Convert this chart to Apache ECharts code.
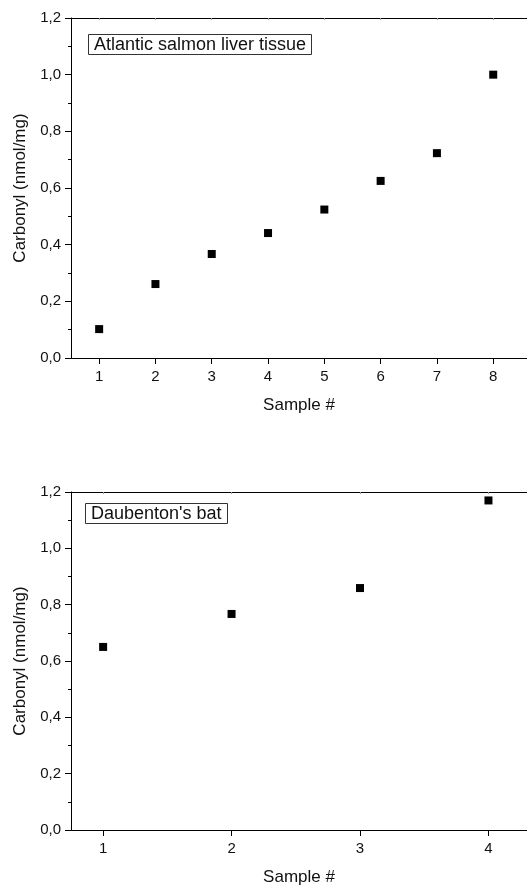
<!DOCTYPE html>
<html>
<head>
<meta charset="utf-8">
<script src="https://cdn.jsdelivr.net/npm/echarts@6/dist/echarts.min.js"></script>
<style>
html,body{margin:0;padding:0;background:#fff;}
#c{width:527px;height:888px;}
</style>
</head>
<body>
<div id="c"></div>
<script>
// ---- data ----
var salmonSamples = [1, 2, 3, 4, 5, 6, 7, 8];
var salmonCarbonyl = [0.102, 0.261, 0.367, 0.441, 0.524, 0.625, 0.723, 1.0];
var batSamples = [1, 2, 3, 4];
var batCarbonyl = [0.650, 0.767, 0.859, 1.170];
var salmonXTicks = [1, 2, 3, 4, 5, 6, 7, 8];
var batXTicks = [1, 2, 3, 4];
var yTicks = [0, 0.2, 0.4, 0.6, 0.8, 1.0, 1.2];
var salmonLabel = 'Atlantic salmon liver tissue';
var batLabel = "Daubenton's bat";
var yTitle = 'Carbonyl (nmol/mg)';
var xTitle = 'Sample #';

var FONT = '"Liberation Sans", Arial, sans-serif';
var BLACK = '#000';
var TXT = '#111';

function pairs(xs, ys) { return xs.map(function (x, i) { return [x, ys[i]]; }); }
function fmtY(v) { return v.toFixed(1).replace('.', ','); }

function xAxisBottom(grid, min, max, ticks) {
  return {
    type: 'value', gridIndex: grid, position: 'bottom', min: min, max: max,
    name: xTitle, nameLocation: 'middle', nameGap: 39,
    nameTextStyle: { fontFamily: FONT, fontSize: 17, color: TXT },
    axisLine: { show: true, onZero: false, lineStyle: { color: BLACK, width: 1 } },
    axisTick: { show: true, inside: false, length: 6, customValues: ticks, lineStyle: { color: BLACK } },
    axisLabel: { show: true, customValues: ticks, margin: 11, fontFamily: FONT, fontSize: 15, color: TXT },
    splitLine: { show: false }
  };
}
function xAxisTop(grid, min, max, ticks) {
  return {
    type: 'value', gridIndex: grid, position: 'top', min: min, max: max,
    axisLine: { show: true, onZero: false, lineStyle: { color: BLACK, width: 1 } },
    axisTick: { show: true, inside: true, length: 2, customValues: ticks, lineStyle: { color: '#999' } },
    axisLabel: { show: false },
    splitLine: { show: false }
  };
}
function yAxis(grid) {
  return {
    type: 'value', gridIndex: grid, min: 0, max: 1.2,
    name: yTitle, nameLocation: 'middle', nameGap: 42, nameRotate: 90,
    nameTextStyle: { fontFamily: FONT, fontSize: 17, color: TXT },
    axisLine: { show: true, onZero: false, lineStyle: { color: BLACK, width: 1 } },
    axisTick: { show: true, inside: false, length: 6, customValues: yTicks, lineStyle: { color: BLACK } },
    minorTick: { show: true, splitNumber: 2, length: 3, lineStyle: { color: BLACK } },
    axisLabel: { show: true, customValues: yTicks, margin: 10, fontFamily: FONT, fontSize: 15, color: TXT, formatter: fmtY },
    splitLine: { show: false }
  };
}
function labelBox(text, left, top) {
  return {
    text: text, left: left, top: top,
    borderWidth: 1, borderColor: '#333', padding: [2, 6, 1, 6],
    textStyle: { fontFamily: FONT, fontSize: 18, fontWeight: 'normal', color: TXT }
  };
}

var chart = echarts.init(document.getElementById('c'), null, { renderer: 'canvas' });
chart.setOption({
  animation: false,
  backgroundColor: '#fff',
  title: [labelBox(salmonLabel, 88, 34), labelBox(batLabel, 85, 503)],
  grid: [
    { left: 71, top: 18, width: 459, height: 340, containLabel: false },
    { left: 71, top: 492, width: 460, height: 338, containLabel: false }
  ],
  xAxis: [
    xAxisBottom(0, 0.5, 8.6, salmonXTicks),
    xAxisTop(0, 0.5, 8.6, salmonXTicks),
    xAxisBottom(1, 0.75, 4.3, batXTicks),
    xAxisTop(1, 0.75, 4.3, batXTicks)
  ],
  yAxis: [yAxis(0), yAxis(1)],
  series: [
    { type: 'scatter', xAxisIndex: 0, yAxisIndex: 0, symbol: 'rect', symbolSize: 8,
      itemStyle: { color: BLACK, opacity: 1 }, data: pairs(salmonSamples, salmonCarbonyl) },
    { type: 'scatter', xAxisIndex: 2, yAxisIndex: 1, symbol: 'rect', symbolSize: 8,
      itemStyle: { color: BLACK, opacity: 1 }, data: pairs(batSamples, batCarbonyl) }
  ]
});
</script>
</body>
</html>
